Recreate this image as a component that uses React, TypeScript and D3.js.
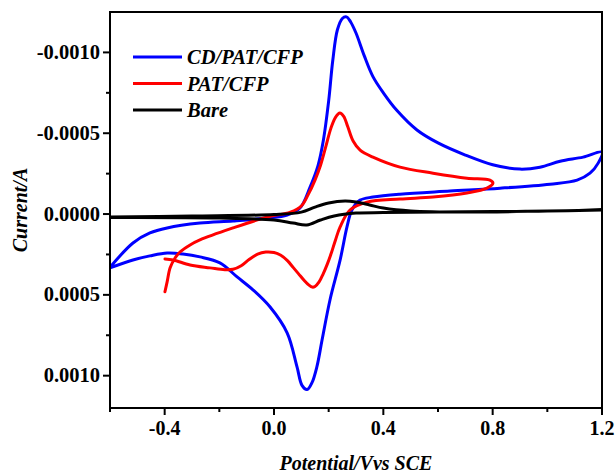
import React from "react";
import * as d3 from "d3";

// Cyclic voltammograms: [potential (V vs SCE), current (A)]
const cdPatCfp: [number, number][] = [
  [-0.6, 0.00033], [-0.516, 0.000179], [-0.454, 0.000117], [-0.391, 0.000086],
  [-0.271, 0.000056], [-0.15, 0.000043], [-0.026, 0.000025], [0.048, 0.000006],
  [0.095, -0.000037], [0.132, -0.000167], [0.161, -0.0003], [0.18, -0.00045],
  [0.2, -0.0007], [0.215, -0.00095], [0.232, -0.00114], [0.25, -0.00121],
  [0.265, -0.00122], [0.28, -0.00119], [0.3, -0.00112], [0.33, -0.00098],
  [0.362, -0.00085], [0.4, -0.00075], [0.45, -0.00064], [0.523, -0.00052],
  [0.6, -0.00044], [0.7, -0.000365], [0.8, -0.000305], [0.9, -0.000278],
  [0.973, -0.00029], [1.047, -0.000327], [1.131, -0.000352], [1.2, -0.000383],
  [1.186, -0.000315], [1.156, -0.000253], [1.109, -0.00021], [1.01, -0.000185],
  [0.827, -0.00016], [0.644, -0.000142], [0.461, -0.000123], [0.362, -0.000105],
  [0.315, -0.000086], [0.285, -0.000025], [0.267, 0.00008], [0.242, 0.000284],
  [0.205, 0.00053], [0.176, 0.000778], [0.157, 0.000944], [0.139, 0.001043],
  [0.121, 0.001086], [0.103, 0.001062], [0.084, 0.000944], [0.048, 0.000735],
  [-0.015, 0.000574], [-0.077, 0.000469], [-0.135, 0.000389], [-0.198, 0.000302],
  [-0.271, 0.000265], [-0.333, 0.000247], [-0.391, 0.000241], [-0.454, 0.000259],
  [-0.516, 0.000284], [-0.6, 0.000333],
];

const patCfp: [number, number][] = [
  [-0.399, 0.000481], [-0.391, 0.00042], [-0.38, 0.000333], [-0.362, 0.000272],
  [-0.344, 0.000235], [-0.307, 0.000191], [-0.271, 0.00016], [-0.15, 0.000086],
  [-0.026, 0.000019], [0.06, -0.000012], [0.1, -0.00005], [0.125, -0.00012],
  [0.15, -0.00021], [0.17, -0.0003], [0.19, -0.00042], [0.208, -0.00053],
  [0.225, -0.000598], [0.241, -0.000625], [0.255, -0.000605], [0.27, -0.00054],
  [0.29, -0.00045], [0.315, -0.000395], [0.362, -0.000352], [0.461, -0.00029],
  [0.582, -0.000253], [0.706, -0.000222], [0.79, -0.00021], [0.801, -0.000191],
  [0.779, -0.00016], [0.706, -0.00013], [0.582, -0.000105], [0.461, -0.000093],
  [0.34, -0.000074], [0.278, -0.000025], [0.242, 0.00008], [0.225, 0.00016],
  [0.21, 0.00024], [0.195, 0.00031], [0.18, 0.00037], [0.165, 0.00042],
  [0.15, 0.000448], [0.14, 0.000452], [0.128, 0.00044], [0.11, 0.00041],
  [0.09, 0.00037], [0.07, 0.00033], [0.05, 0.00029], [0.025, 0.000255],
  [0.0, 0.000238], [-0.03, 0.000235], [-0.06, 0.000248], [-0.09, 0.00028],
  [-0.12, 0.00032], [-0.15, 0.000342], [-0.18, 0.000345], [-0.234, 0.000333],
  [-0.307, 0.000315], [-0.369, 0.000284], [-0.399, 0.000278],
];

const bare: [number, number][] = [
  [-0.6, 0.0000185], [-0.3, 0.000012], [0.0, 0.000003], [0.1, -0.000012],
  [0.15, -0.000043], [0.2, -0.000068], [0.26, -0.00008], [0.3, -0.000074],
  [0.35, -0.000056], [0.4, -0.000037], [0.5, -0.000019], [0.7, -0.000012],
  [1.0, -0.000019], [1.2, -0.000025],
  [1.0, -0.000019], [0.6, -0.000012], [0.4, -0.000009], [0.3, -0.000006],
  [0.22, 0.000012], [0.17, 0.000037], [0.12, 0.000068], [0.07, 0.000056],
  [0.0, 0.000037], [-0.2, 0.000025], [-0.6, 0.000022],
];

const seriesNames = ["CD/PAT/CFP", "PAT/CFP", "Bare"];
const seriesColors = ["#0000ff", "#ff0000", "#000000"];
const seriesData = [cdPatCfp, patCfp, bare];

const xMajorTicks = [-0.4, 0.0, 0.4, 0.8, 1.2];
const xMinorTicks = [-0.6, -0.2, 0.2, 0.6, 1.0];
const yMajorTicks = [-0.001, -0.0005, 0.0, 0.0005, 0.001];
const yMinorTicks = [-0.00075, -0.00025, 0.00025, 0.00075];

const xLabel = "Potential/Vvs SCE";
const yLabel = "Current/A";

const W = 616;
const H = 473;
const FONT = "'Liberation Serif', 'Times New Roman', serif";

export default function App() {
  const x = d3.scaleLinear().domain([-0.6, 1.2]).range([110, 602]);
  const y = d3.scaleLinear().domain([-0.00125, 0.0012]).range([12, 408]);
  const [x0, x1] = x.range();
  const [y0, y1] = y.range();

  const line = d3
    .line<[number, number]>()
    .x((d) => x(d[0]))
    .y((d) => y(d[1]))
    .curve(d3.curveCatmullRom.alpha(0.5));

  return (
    <svg
      width={W}
      height={H}
      style={{ position: "absolute", left: 0, top: 0, background: "#fff" }}
      fontFamily={FONT}
    >
      <rect x={0} y={0} width={W} height={H} fill="#fff" />
      <defs>
        <clipPath id="plot-clip">
          <rect x={x0} y={y0} width={x1 - x0} height={y1 - y0} />
        </clipPath>
      </defs>

      {/* curves */}
      <g clipPath="url(#plot-clip)" fill="none" strokeLinejoin="round" strokeLinecap="round">
        {seriesData.map((d, i) => (
          <path key={i} d={line(d) || ""} stroke={seriesColors[i]} strokeWidth={3} />
        ))}
      </g>

      {/* frame */}
      <rect x={x0} y={y0} width={x1 - x0} height={y1 - y0} fill="none" stroke="#000" strokeWidth={2} />

      {/* x axis ticks */}
      {xMajorTicks.map((t) => (
        <g key={"xm" + t}>
          <line x1={x(t)} x2={x(t)} y1={y1} y2={y1 + 7} stroke="#000" strokeWidth={2} />
          <text x={x(t)} y={435} textAnchor="middle" fontSize={20} fontWeight="bold">
            {t.toFixed(1)}
          </text>
        </g>
      ))}
      {xMinorTicks.map((t) => (
        <line key={"xn" + t} x1={x(t)} x2={x(t)} y1={y1} y2={y1 + 4} stroke="#000" strokeWidth={2} />
      ))}

      {/* y axis ticks */}
      {yMajorTicks.map((t) => (
        <g key={"ym" + t}>
          <line x1={x0 - 7} x2={x0} y1={y(t)} y2={y(t)} stroke="#000" strokeWidth={2} />
          <text x={100} y={y(t) + 6.5} textAnchor="end" fontSize={20.5} fontWeight="bold">
            {t.toFixed(4)}
          </text>
        </g>
      ))}
      {yMinorTicks.map((t) => (
        <line key={"yn" + t} x1={x0 - 4} x2={x0} y1={y(t)} y2={y(t)} stroke="#000" strokeWidth={2} />
      ))}

      {/* axis titles */}
      <text x={(x0 + x1) / 2} y={470} textAnchor="middle" fontSize={20} fontWeight="bold" fontStyle="italic">
        {xLabel}
      </text>
      <text
        transform={`translate(27, ${(y0 + y1) / 2}) rotate(-90)`}
        textAnchor="middle"
        fontSize={20}
        fontWeight="bold"
        fontStyle="italic"
      >
        {yLabel}
      </text>

      {/* legend */}
      {seriesNames.map((name, i) => (
        <g key={name} transform={`translate(133, ${57 + i * 26.5})`}>
          <line x1={0} x2={49} y1={0} y2={0} stroke={seriesColors[i]} strokeWidth={3} />
          <text x={54} y={7} fontSize={20.5} fontWeight="bold" fontStyle="italic">
            {name}
          </text>
        </g>
      ))}
    </svg>
  );
}
